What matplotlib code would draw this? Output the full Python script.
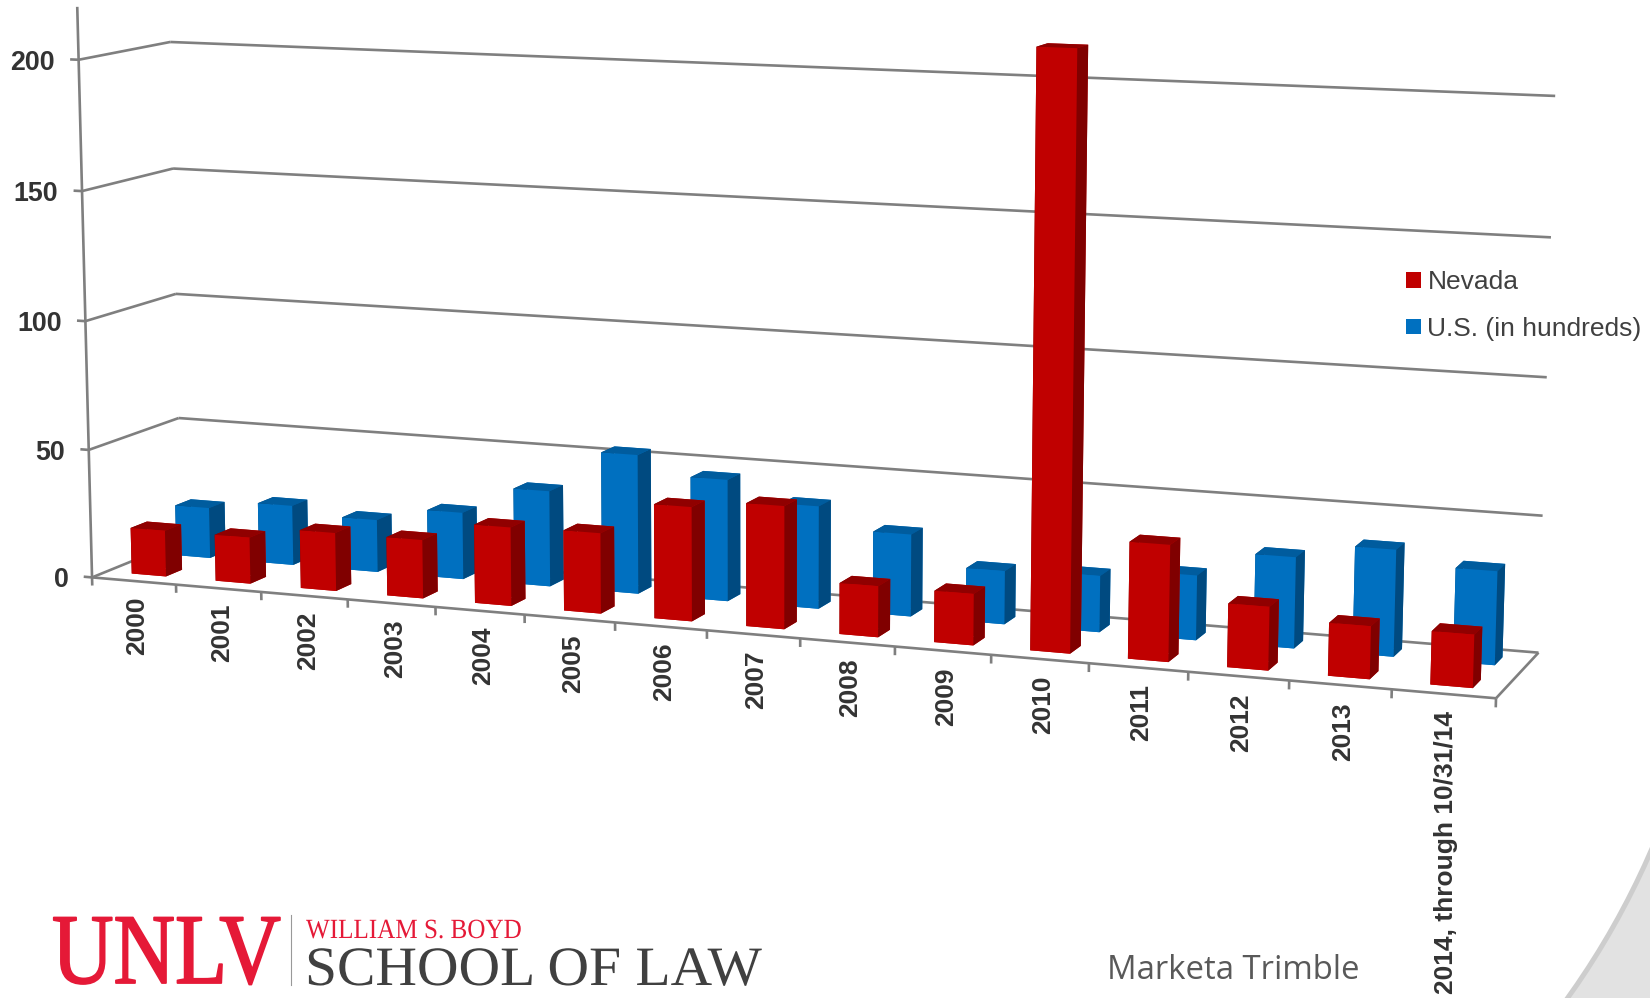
import numpy as np
import matplotlib
matplotlib.use("Agg")
import matplotlib.pyplot as plt
from matplotlib.patches import Patch, Rectangle, Circle
from matplotlib.lines import Line2D
from matplotlib.patheffects import AbstractPathEffect
from matplotlib.transforms import Affine2D, IdentityTransform, Bbox
from mpl_toolkits.mplot3d.art3d import Line3DCollection

W, H = 1650, 998

years = ["2000", "2001", "2002", "2003", "2004", "2005", "2006", "2007", "2008", "2009",
         "2010", "2011", "2012", "2013", "2014, through 10/31/14"]
nevada = [18, 18, 22.5, 22.5, 30, 30.5, 43, 46, 19, 19, 217, 42.5, 23, 19, 19]
us_hundreds = [20, 23.5, 20.5, 26, 37, 53.5, 46.5, 39, 31, 20, 21, 24, 33.5, 39, 34]
z_ticks = [0, 50, 100, 150, 200]
legend_labels = ["Nevada", "U.S. (in hundreds)"]

RED, RED_SIDE, RED_TOP = "#C00000", "#800000", "#900000"
BLUE, BLUE_SIDE, BLUE_TOP = "#0070C0", "#004A80", "#005C9E"
GRID = "#7F7F7F"
TXT = "#333333"
FONT = "Liberation Sans"

# Camera calibration: chart-box corners (category, depth, value) against their pixel positions
calib_world = np.array([
    [0, 0, 0], [15, 0, 0], [15, 1, 0], [0, 1, 0], [0, 0, 200], [0, 1, 200], [15, 1, 200],
    [7, 0, 0], [0, 0, 100], [0, 1, 100], [15, 1, 100], [0, 1, 50], [15, 1, 50]], float)
calib_pix = np.array([
    [93, 577], [1496, 699], [1538, 652], [181, 542], [79, 60], [170.5, 42], [1555, 96],
    [707, 630], [84, 321], [175.7, 293.6], [1547, 377], [179, 417.8], [1543, 516]], float)


def fit_camera(world, pix):
    rows = []
    for (x, y, z), (u, v) in zip(world, pix):
        v = H - v
        rows.append([x, y, z, 1, 0, 0, 0, 0, -u * x, -u * y, -u * z, -u])
        rows.append([0, 0, 0, 0, x, y, z, 1, -v * x, -v * y, -v * z, -v])
    scale = np.array([15, 1, 200, 1] * 2 + [15, 1, 200, 1])
    A = np.array(rows) * scale
    p = (np.linalg.svd(A)[2][-1] * scale).reshape(3, 4)
    p /= p[2, 3]
    depth = np.array([-1.0, 1.0, -0.01, 0.0])   # painter's order inside one bar
    return np.vstack([p[0], p[1], depth, p[2]])


M = fit_camera(calib_world, calib_pix)


def project(x, y, z):
    q = M @ np.array([x, y, z, 1.0])
    return q[0] / q[3], q[1] / q[3]


class SquashX(AbstractPathEffect):
    def __init__(self, x0, s, stroke=0):
        self.x0, self.s, self.stroke = x0, s, stroke

    def draw_path(self, renderer, gc, tpath, affine, rgbFace=None):
        t = Affine2D().translate(-self.x0, 0).scale(self.s, 1).translate(self.x0, 0)
        gc0 = renderer.new_gc()
        gc0.copy_properties(gc)
        if self.stroke:
            gc0.set_foreground(rgbFace)
            gc0.set_linewidth(self.stroke)
        renderer.draw_path(gc0, tpath, affine + t, rgbFace)
        gc0.restore()


fig = plt.figure(figsize=(W / 100, H / 100), dpi=100, facecolor="white")

# decorative corner swoosh
corner = Bbox([[1480, 0], [1650, 170]])
fig.add_artist(Rectangle((1480, 0), 170, 170, transform=IdentityTransform(), fc="#E2E2E2", ec="none", zorder=-3))
for rad, col, zo in [(805, "#CDCDCD", -2), (800, "white", -1)]:
    c = Circle((915, H - 531), rad, transform=IdentityTransform(), fc=col, ec="none", zorder=zo)
    fig.add_artist(c)
    c.set_clip_box(corner)
    c.set_clip_on(True)

ax = fig.add_axes([0, 0, 1, 1], projection="3d", computed_zorder=False)
ax.apply_aspect = lambda position=None: None
ax.get_proj = lambda: M
ax.set_axis_off()
ax.patch.set_visible(False)
ax.viewLim.set_points(np.array([[0.0, 0.0], [float(W), float(H)]]))

n = len(years)
segments = []

# value gridlines on the two walls, with their ticks
for v in z_ticks:
    segments.append([(-0.1, 0, v), (0, 0, v)])
    segments.append([(0, 0, v), (0, 1, v)])
    segments.append([(0, 1, v), (n, 1, v)])
    px, py = project(-0.28, 0, v)
    ax.text2D(px, py - 4.5, str(v), transform=ax.transData, ha="right", va="center",
              family=FONT, weight="bold", fontsize=19.3, color=TXT)
# value axis, floor edges
segments.append([(0, 0, 0), (0, 0, 220)])
segments.append([(0, 0, 0), (n, 0, 0)])
segments.append([(n, 0, 0), (n, 1, 0)])
# category ticks and labels
for i in range(n + 1):
    segments.append([(i, 0, 0), (i, 0, -3.2)])
for i, lab in enumerate(years):
    px, py = project(i + 0.5, 0, -7.2)
    ax.text2D(px + 3, py + 3, lab, transform=ax.transData, rotation=90, ha="center", va="top",
              family=FONT, weight="bold", fontsize=19, color=TXT)

ax.add_collection3d(Line3DCollection(segments, colors=GRID, linewidths=1.9, capstyle="butt", zorder=1),
                    autolim=False)


def bars(values, y0, colors, zorder):
    for i, v in enumerate(values):
        c = [colors[0], colors[2], colors[0], colors[0], colors[1], colors[1]]
        ax.bar3d(i + 0.3, y0, 0, 0.41, 0.18, v, color=c, shade=False, linewidth=0, zorder=zorder)


bars(us_hundreds, 0.66, (BLUE, BLUE_SIDE, BLUE_TOP), 2)
bars(nevada, 0.16, (RED, RED_SIDE, RED_TOP), 3)

fig.legend(handles=[Patch(fc=RED, label=legend_labels[0]), Patch(fc=BLUE, label=legend_labels[1])],
           loc="upper left", bbox_to_anchor=(1406.3 / W, 1 - 270.4 / H), frameon=False,
           prop=dict(family=FONT, size=19), labelcolor="#404040", handlelength=0.55, handleheight=0.55,
           handletextpad=0.25, labelspacing=0.85, borderpad=0, borderaxespad=0)

# footer
UNLV_RED = "#E51937"


def ftext(x, y, s, s_x=1.0, stroke=0, **kw):
    t = fig.text(x / W, 1 - y / H, s, va="baseline", ha="left", **kw)
    if s_x != 1.0:
        t.set_path_effects([SquashX(x, s_x, stroke)])
    return t


ftext(52, 983, "UNLV", s_x=0.852, stroke=1.3, family="Liberation Serif", fontsize=72, color=UNLV_RED)
fig.add_artist(Line2D([291 / W, 291 / W], [1 - 915 / H, 1 - 985 / H], color="#999999", lw=0.8))
ftext(306, 938, "WILLIAM S. BOYD", s_x=0.905, family="Liberation Serif", fontsize=20, color=UNLV_RED)
ftext(305, 985, "SCHOOL OF LAW", s_x=1.036, family="Liberation Serif", fontsize=40, color="#404040")
ftext(1107, 979, "Marketa Trimble", family="Open Sans", fontsize=23.7, color="#595959")

fig.savefig("out.png", dpi=100)
